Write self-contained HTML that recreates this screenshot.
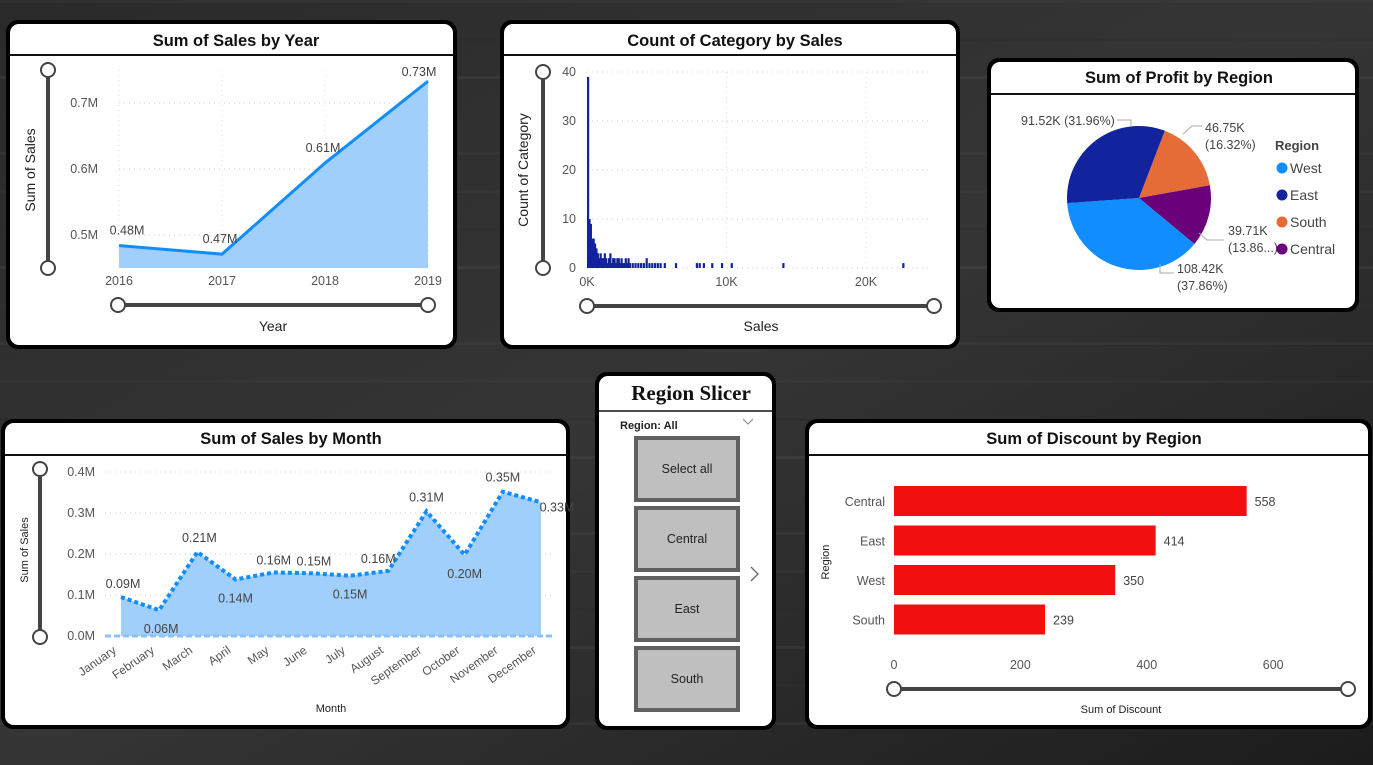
<!DOCTYPE html>
<html><head><meta charset="utf-8">
<style>
html,body{margin:0;padding:0;width:1373px;height:765px;overflow:hidden;background:#1e1e1e;}
svg{display:block;font-family:"Liberation Sans",sans-serif;}
.t{font-weight:bold;font-size:16.5px;fill:#111;text-anchor:middle;}
.tick{font-size:12.5px;fill:#555;}
.lbl{font-size:12.5px;fill:#444;}
</style></head>
<body>
<svg id="dash" width="1373" height="765" viewBox="0 0 1373 765">
<defs>
<linearGradient id="bg" x1="0" y1="0" x2="1" y2="1">
<stop offset="0" stop-color="#2a2a2a"/><stop offset="0.5" stop-color="#353535"/><stop offset="1" stop-color="#1c1c1c"/>
</linearGradient>
</defs>
<rect width="1373" height="765" fill="url(#bg)"/>
<g id="bgstrips" opacity="0.25"></g>

<g>
<rect x="6" y="20" width="451" height="329" rx="12" fill="#000"/>
<rect x="10" y="24" width="443" height="321" rx="9" fill="#fff"/>
<text x="236" y="46" class="t">Sum of Sales by Year</text>
<line x1="10" y1="55" x2="453" y2="55" stroke="#111" stroke-width="2"/>
<g id="yearChart"></g>
</g>

<g>
<rect x="500" y="20" width="460" height="329" rx="12" fill="#000"/>
<rect x="504" y="24" width="452" height="321" rx="9" fill="#fff"/>
<text x="735" y="46" class="t">Count of Category by Sales</text>
<line x1="504" y1="55" x2="956" y2="55" stroke="#111" stroke-width="2"/>
<g id="histChart"></g>
</g>

<g>
<rect x="987" y="58" width="372" height="254" rx="12" fill="#000"/>
<rect x="991" y="62" width="364" height="246" rx="9" fill="#fff"/>
<text x="1179" y="83" class="t">Sum of Profit by Region</text>
<line x1="991" y1="94" x2="1355" y2="94" stroke="#111" stroke-width="2"/>
<g id="pieChart"></g>
</g>

<g>
<rect x="1" y="419" width="569" height="310" rx="12" fill="#000"/>
<rect x="5" y="423" width="561" height="302" rx="9" fill="#fff"/>
<text x="291" y="444" class="t">Sum of Sales by Month</text>
<line x1="5" y1="455" x2="566" y2="455" stroke="#111" stroke-width="2"/>
<g id="monthChart"></g>
</g>

<g>
<rect x="595" y="372" width="181" height="358" rx="12" fill="#000"/>
<rect x="599" y="376" width="173" height="350" rx="9" fill="#fff"/>
<text x="691" y="400" style="font-family:'Liberation Serif',serif;font-weight:bold;font-size:21px;text-anchor:middle;fill:#111">Region Slicer</text>
<line x1="599" y1="411" x2="772" y2="411" stroke="#111" stroke-width="1.5"/>
<text x="620" y="429" style="font-size:11px;font-weight:bold;fill:#222">Region: All</text>
<path d="M743 419 L748 424 L753 419" fill="none" stroke="#888" stroke-width="1"/>
<g id="slicerButtons"></g>
<path d="M751 567 L758 574 L751 581" fill="none" stroke="#666" stroke-width="1.3"/>
</g>

<g>
<rect x="805" y="419" width="567" height="310" rx="12" fill="#000"/>
<rect x="809" y="423" width="559" height="302" rx="9" fill="#fff"/>
<text x="1094" y="444" class="t">Sum of Discount by Region</text>
<line x1="809" y1="455" x2="1368" y2="455" stroke="#111" stroke-width="2"/>
<g id="discChart"></g>
</g>
</svg>

<script>
const years = ["2016","2017","2018","2019"];
const yearSales = [0.484, 0.471, 0.609, 0.733];
const yearLabels = ["0.48M","0.47M","0.61M","0.73M"];
const yearTicks = [0.5, 0.6, 0.7];

const histBins = [0,0.1,0.2,0.3,0.4,0.5,0.6,0.7,0.8,0.9,1.0,1.1,1.2,1.3,1.4,1.5,1.6,1.7,1.8,1.9,2.0,2.1,2.2,2.3,2.4,2.5,2.6,2.7,2.8,2.9,3.0,3.2,3.4,3.6,3.8,4.0,4.2,4.4,4.6,4.8,5.0,5.2,5.5,6.3,7.8,8.0,8.3,8.9,9.6,10.3,14.0,22.6];
const histCounts = [39,10,9,6,6,5,4,3,2,3,2,2,3,2,1,2,3,1,2,2,1,2,2,1,2,1,1,2,1,2,1,1,1,1,1,1,2,1,1,1,1,1,1,1,1,1,1,1,1,1,1,1];
const histXTicks = [0,10,20];
const histXLabels = ["0K","10K","20K"];
const histYTicks = [0,10,20,30,40];

const regions = ["South","Central","West","East"];
const profit = [46.75, 39.71, 108.42, 91.52];
const profitLabels = [["46.75K","(16.32%)"],["39.71K","(13.86...)"],["108.42K","(37.86%)"],["91.52K (31.96%)"]];
const pieColors = ["#e66c37","#6b007b","#118dff","#12239e"];

const months = ["January","February","March","April","May","June","July","August","September","October","November","December"];
const monthSales = [0.095,0.063,0.205,0.138,0.155,0.153,0.147,0.159,0.304,0.198,0.352,0.326];
const monthLabels = ["0.09M","0.06M","0.21M","0.14M","0.16M","0.15M","0.15M","0.16M","0.31M","0.20M","0.35M","0.33M"];
const monthTicks = [0,0.1,0.2,0.3,0.4];

const discRegions = ["Central","East","West","South"];
const discount = [558, 414, 350, 239];
const discTicks = [0,200,400,600];

const slicerItems = ["Select all","Central","East","South"];

const NS="http://www.w3.org/2000/svg";
function mk(parent,tag,attrs,text){const e=document.createElementNS(NS,tag);for(const k in attrs)e.setAttribute(k,attrs[k]);if(text!==undefined)e.textContent=text;parent.appendChild(e);return e;}
function slider(g,x1,y1,x2,y2){
  mk(g,"line",{x1,y1,x2,y2,stroke:"#444","stroke-width":4});
  mk(g,"circle",{cx:x1,cy:y1,r:7,fill:"#fff",stroke:"#444","stroke-width":2});
  mk(g,"circle",{cx:x2,cy:y2,r:7,fill:"#fff",stroke:"#444","stroke-width":2});
}

(function(){const g=document.getElementById("bgstrips");
  const cols=["#444","#2a2a2a","#555","#333","#4a4a4a"];
  for(let i=0;i<20;i++){const r=mk(g,"rect",{x:0,y:i*38,width:1373,height:3,fill:cols[i%5]});
  
  }})();

(function(){
  const g=document.getElementById("yearChart");
  const x0=119,x1=428;
  const xs=i=>x0+i*(x1-x0)/(years.length-1);
  const ys=v=>235-(v-0.5)*660;
  const base=268;
  yearTicks.forEach(t=>{mk(g,"line",{x1:x0,x2:x1,y1:ys(t),y2:ys(t),stroke:"#ccc","stroke-dasharray":"1 4"});
    const tx=mk(g,"text",{x:98,y:ys(t)+4,"text-anchor":"end",class:"tick"},t.toFixed(1)+"M");
    
    });
  years.forEach((y,i)=>{mk(g,"line",{x1:xs(i),x2:xs(i),y1:70,y2:base,stroke:"#ddd","stroke-dasharray":"1 4"});
    const tx=mk(g,"text",{x:xs(i),y:285,"text-anchor":"middle",class:"tick"},y);
    
    });
  let d="M"+xs(0)+","+base;yearSales.forEach((v,i)=>d+=" L"+xs(i)+","+ys(v));d+=" L"+xs(years.length-1)+","+base+"Z";
  const a=mk(g,"path",{d,fill:"#a0cffc"});
  
  
  const l=mk(g,"polyline",{points:yearSales.map((v,i)=>xs(i)+","+ys(v)).join(" "),fill:"none",stroke:"#118dff","stroke-width":3});
  
  
  yearSales.forEach((v,i)=>{const off=[-11,-11,-11,-5][i];
    const tx=mk(g,"text",{x:xs(i)+(i==3?-9:i==0?8:-2),y:ys(v)+off,"text-anchor":"middle",class:"lbl"},yearLabels[i]);
    
    });
  const yt=mk(g,"text",{x:35,y:170,transform:"rotate(-90 35 170)","text-anchor":"middle",style:"font-size:14px;fill:#222"},"Sum of Sales");
  
  
  const xt=mk(g,"text",{x:273,y:331,"text-anchor":"middle",style:"font-size:14px;fill:#222"},"Year");
  
  
  slider(g,48,70,48,268);slider(g,118,305,428,305);
})();

(function(){
  const g=document.getElementById("histChart");
  const xs=v=>587+v*13.95;
  const ys=c=>268-c*4.9;
  histYTicks.forEach(t=>{mk(g,"line",{x1:587,x2:932,y1:ys(t),y2:ys(t),stroke:"#ccc","stroke-dasharray":"1 4"});
    const tx=mk(g,"text",{x:576,y:ys(t)+4,"text-anchor":"end",class:"tick"},t);
    
    });
  histXTicks.forEach((t,i)=>{mk(g,"line",{x1:xs(t),x2:xs(t),y1:72,y2:268,stroke:"#ddd","stroke-dasharray":"1 4"});
    const tx=mk(g,"text",{x:xs(t),y:286,"text-anchor":"middle",class:"tick"},histXLabels[i]);
    
    });
  histBins.forEach((b,i)=>{const r=mk(g,"rect",{x:xs(b),y:ys(histCounts[i]),width:2.2,height:histCounts[i]*4.9,fill:"#12239e"});
    
    });
  const yt=mk(g,"text",{x:528,y:170,transform:"rotate(-90 528 170)","text-anchor":"middle",style:"font-size:14px;fill:#222"},"Count of Category");
  
  
  const xt=mk(g,"text",{x:761,y:331,"text-anchor":"middle",style:"font-size:14px;fill:#222"},"Sales");
  
  
  slider(g,543,72,543,268);slider(g,587,306,934,306);
})();

(function(){
  const g=document.getElementById("pieChart");
  const cx=1139,cy=198,r=72;
  const total=profit.reduce((a,b)=>a+b,0);
  let ang=21;
  const pt=(a,rr)=>[cx+rr*Math.sin(a*Math.PI/180),cy-rr*Math.cos(a*Math.PI/180)];
  profit.forEach((v,i)=>{
    const sweep=v/total*360;const [x1,y1]=pt(ang,r);const [x2,y2]=pt(ang+sweep,r);
    const p=mk(g,"path",{d:`M${cx},${cy} L${x1},${y1} A${r},${r} 0 ${sweep>180?1:0} 1 ${x2},${y2} Z`,fill:pieColors[i]});
    
    
    ang+=sweep;});
  const labs=[{x:1205,y:132,l:[1183,134,1192,126,1202,126]},{x:1228,y:235,l:[1199,233,1207,240,1224,240]},{x:1177,y:273,l:[1160,264,1160,273,1174,273]},{x:1021,y:125,l:[1131,127,1131,120,1117,120]}];
  profitLabels.forEach((ls,i)=>{
    const L=labs[i];mk(g,"polyline",{points:L.l.join(" "),fill:"none",stroke:"#aaa","stroke-width":1});
    ls.forEach((s,j)=>{const tx=mk(g,"text",{x:L.x,y:L.y+j*17,class:"lbl"},s);
      
      });});
  const lt=mk(g,"text",{x:1275,y:150,style:"font-size:13px;font-weight:bold;fill:#444"},"Region");
  
  
  const legOrder=[2,3,0,1];
  legOrder.forEach((k,j)=>{const y=168+j*27;
    const c=mk(g,"circle",{cx:1282,cy:y,r:5.5,fill:pieColors[k]});
    
    
    const tx=mk(g,"text",{x:1290,y:y+5,style:"font-size:14px;fill:#444"},regions[k]);
    
    });
})();

(function(){
  const g=document.getElementById("monthChart");
  const xs=i=>121+i*(541-121)/(months.length-1);
  const ys=v=>636-v*410;
  monthTicks.forEach(t=>{mk(g,"line",{x1:105,x2:552,y1:ys(t),y2:ys(t),stroke:"#ccc","stroke-dasharray":"1 4"});
    const tx=mk(g,"text",{x:95,y:ys(t)+4,"text-anchor":"end",class:"tick"},t.toFixed(1)+"M");
    
    });
  let d="M"+xs(0)+","+ys(0);monthSales.forEach((v,i)=>d+=" L"+xs(i)+","+ys(v));d+=" L"+xs(11)+","+ys(0)+"Z";
  const a=mk(g,"path",{d,fill:"#a0cffc"});
  
  
  mk(g,"line",{x1:105,x2:552,y1:ys(0),y2:ys(0),stroke:"#8cc2f8","stroke-width":3,"stroke-dasharray":"6 3"});
  const l=mk(g,"polyline",{points:monthSales.map((v,i)=>xs(i)+","+ys(v)).join(" "),fill:"none",stroke:"#118dff","stroke-width":4,"stroke-dasharray":"4 3"});
  
  
  const offs=[[2,-9],[2,23],[2,-10],[0,23],[0,-8],[2,-8],[0,23],[-10,-8],[0,-10],[0,23],[0,-10],[16,9]];
  monthSales.forEach((v,i)=>{const tx=mk(g,"text",{x:xs(i)+offs[i][0],y:ys(v)+offs[i][1],"text-anchor":"middle",class:"lbl"},monthLabels[i]);
    
    });
  months.forEach((m,i)=>{const x=xs(i)-4,y=652;
    const tx=mk(g,"text",{x,y,transform:`rotate(-35 ${x} ${y})`,"text-anchor":"end",class:"tick",style:"font-size:12px"},m);
    
    });
  const yt=mk(g,"text",{x:28,y:550,transform:"rotate(-90 28 550)","text-anchor":"middle",style:"font-size:11px;fill:#222"},"Sum of Sales");
  
  
  const xt=mk(g,"text",{x:331,y:712,"text-anchor":"middle",style:"font-size:11px;fill:#222"},"Month");
  
  
  slider(g,40,469,40,637);
})();

(function(){
  const g=document.getElementById("slicerButtons");
  slicerItems.forEach((s,i)=>{const y=438+i*70;
    const r=mk(g,"rect",{x:636,y,width:102,height:62,fill:"#bfbfbf",stroke:"#606060","stroke-width":4});
    
    
    const tx=mk(g,"text",{x:687,y:y+35,"text-anchor":"middle",style:"font-size:12.5px;fill:#222"},s);
    
    });
})();

(function(){
  const g=document.getElementById("discChart");
  const xs=v=>894+v*0.632;
  const band=39.5, top=486;
  discTicks.forEach(t=>{const tx=mk(g,"text",{x:xs(t),y:669,"text-anchor":"middle",class:"tick"},t);
    
    });
  discount.forEach((v,i)=>{const y=top+i*band;
    const r=mk(g,"rect",{x:xs(0),y,width:xs(v)-xs(0),height:30,fill:"#f20f0f"});
    
    
    const c=mk(g,"text",{x:885,y:y+20,"text-anchor":"end",class:"tick"},discRegions[i]);
    
    
    const tx=mk(g,"text",{x:xs(v)+8,y:y+20,class:"lbl"},v);
    
    });
  const yt=mk(g,"text",{x:829,y:562,transform:"rotate(-90 829 562)","text-anchor":"middle",style:"font-size:11px;fill:#222"},"Region");
  
  
  const xt=mk(g,"text",{x:1121,y:713,"text-anchor":"middle",style:"font-size:11px;fill:#222"},"Sum of Discount");
  
  
  slider(g,894,689,1348,689);
})();
</script>
</body></html>
